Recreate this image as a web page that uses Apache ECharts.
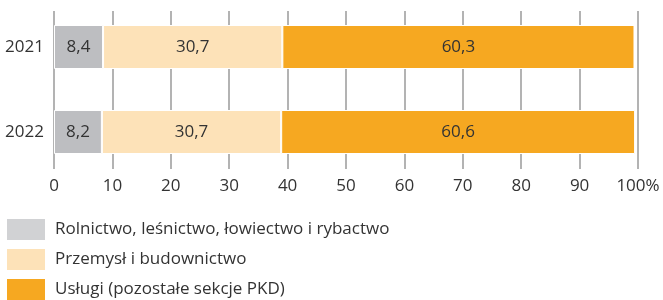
<!DOCTYPE html>
<html>
<head>
<meta charset="utf-8">
<script src="https://cdn.jsdelivr.net/npm/echarts@6/dist/echarts.min.js"></script>
<style>
  html, body { margin: 0; padding: 0; background: #fff; }
  #chart { width: 663px; height: 300px; }
</style>
</head>
<body>
<div id="chart"></div>
<script>
  var years = ['2021', '2022']
  var seriesNames = ['Rolnictwo, leśnictwo, łowiectwo i rybactwo', 'Przemysł i budownictwo', 'Usługi (pozostałe sekcje PKD)']
  var rolnictwo = [8.4, 8.2]
  var przemysl = [30.7, 30.7]
  var uslugi = [60.3, 60.6]

  var barColors = ['#bdbec1', '#fde2b8', '#f6a821']
  var legendColors = ['#d1d2d4', '#fde2b8', '#f6a821']
  var font = '"Open Sans", sans-serif'

  function fmt(v) {
    return String(v).replace('.', ',')
  }

  var values = [rolnictwo, przemysl, uslugi]
  var series = values.map(function (data, i) {
    return {
      name: seriesNames[i],
      type: 'bar',
      stack: 'total',
      barWidth: 44,
      xAxisIndex: 0,
      yAxisIndex: 0,
      itemStyle: { color: barColors[i], borderColor: '#fff', borderWidth: 1 },
      label: {
        show: true,
        position: 'inside',
        color: '#333',
        fontFamily: font,
        fontSize: 17,
        formatter: function (p) { return fmt(p.value) }
      },
      data: data
    }
  })

  var chart = echarts.init(document.getElementById('chart'))
  chart.setOption({
    animation: false,
    legend: {
      orient: 'vertical',
      left: 7,
      top: 219,
      padding: 0,
      height: 90,
      itemWidth: 38,
      itemHeight: 21,
      itemGap: 9,
      icon: 'rect',
      textStyle: { color: '#333', fontFamily: font, fontSize: 17, padding: [0, 0, 0, 5] },
      data: seriesNames.map(function (n, i) {
        return { name: n, itemStyle: { color: legendColors[i], borderWidth: 0 } }
      })
    },
    grid: [
      { left: 54, right: 25, top: 4.5, height: 170, outerBoundsMode: 'none' },
      // grid used only for the vertical gridlines
      { left: 54, right: 25, top: 11, height: 158, outerBoundsMode: 'none' }
    ],
    xAxis: [
      {
        type: 'value', gridIndex: 0, min: 0, max: 100, interval: 10,
        axisLine: { show: false }, axisTick: { show: false },
        splitLine: { show: false },
        axisLabel: {
          color: '#333', fontFamily: font, fontSize: 17, margin: 3,
          formatter: function (v) { return v === 100 ? '100%' : v }
        }
      },
      {
        type: 'value', gridIndex: 1, min: 0, max: 100, interval: 10,
        axisLine: { show: false }, axisTick: { show: false }, axisLabel: { show: false },
        splitLine: { show: true, lineStyle: { color: '#9a9a9a', width: 1.5 } }
      }
    ],
    yAxis: [
      {
        type: 'category', gridIndex: 0, inverse: true, data: years,
        axisLine: { show: false }, axisTick: { show: false },
        axisLabel: { color: '#333', fontFamily: font, fontSize: 17, margin: 10 }
      },
      {
        type: 'category', gridIndex: 1, data: years, show: false
      }
    ],
    series: series
  })
</script>
</body>
</html>
